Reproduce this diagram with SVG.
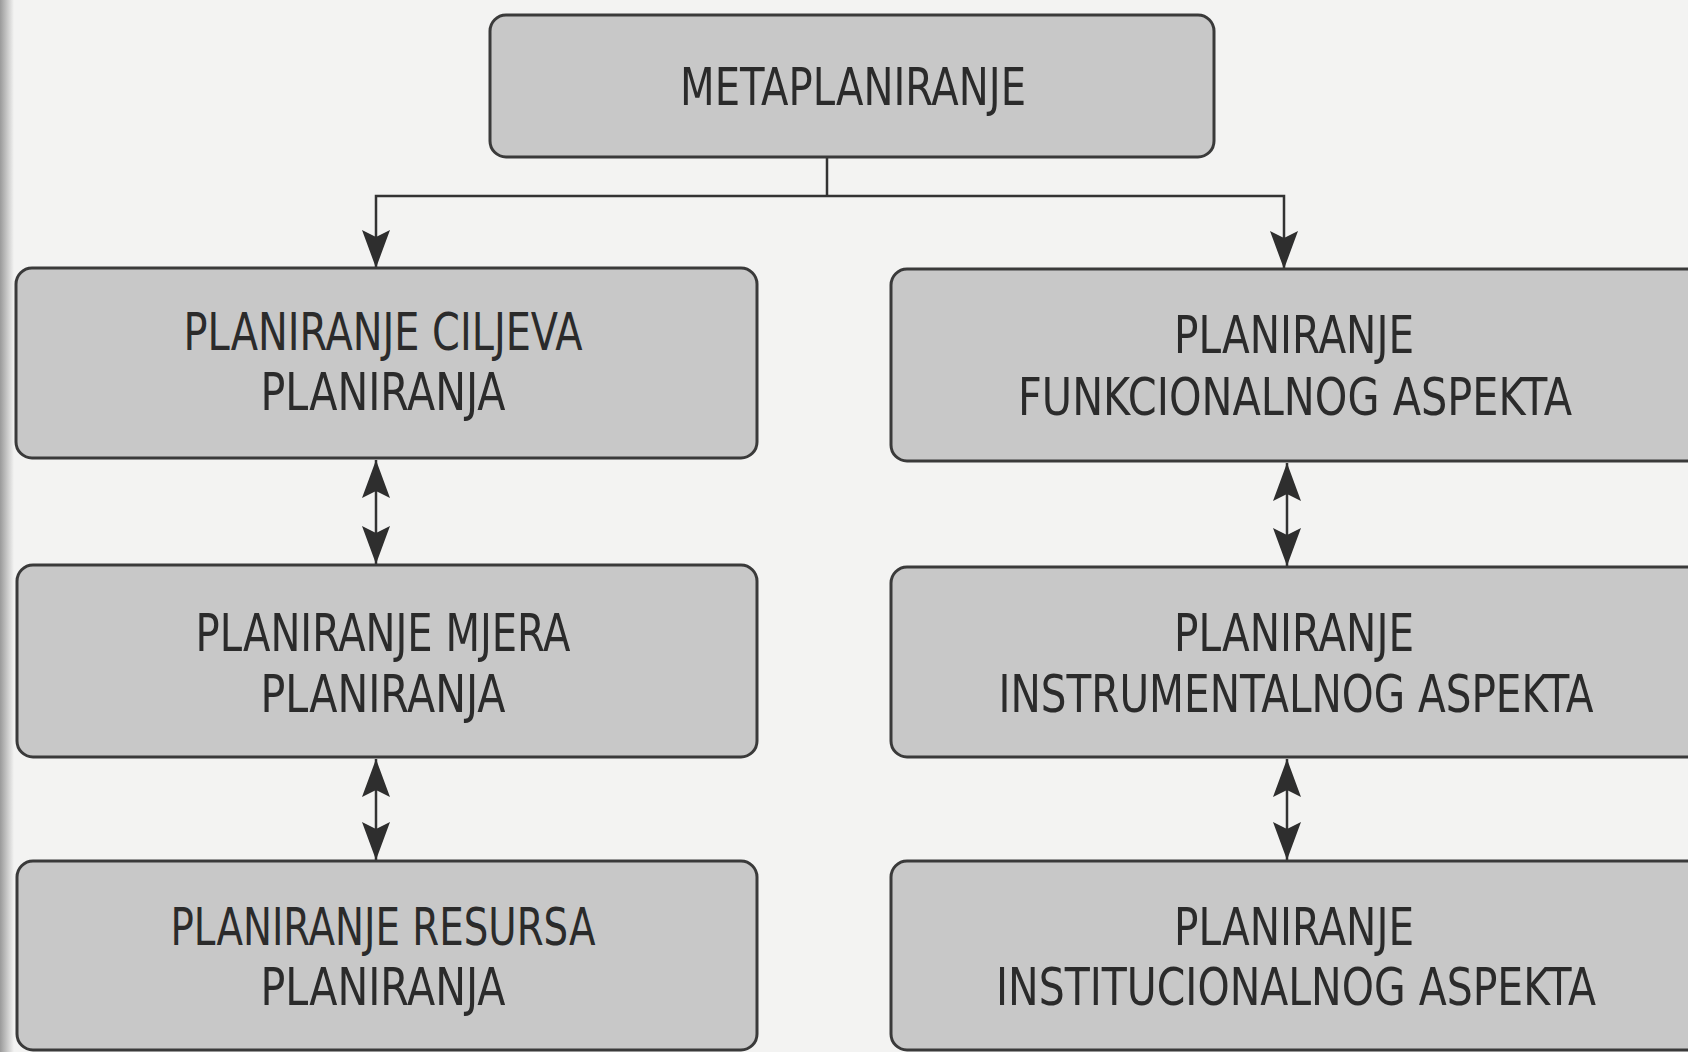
<svg xmlns="http://www.w3.org/2000/svg" width="1688" height="1052" viewBox="0 0 1688 1052">
  <style>
    .box { fill: #c8c8c8; stroke: #3a3a3a; stroke-width: 3; }
    .lbl { font-family: 'Liberation Sans Narrow', 'DejaVu Sans Condensed', 'Liberation Sans', sans-serif; font-size: 52px; fill: #2b2b2b; text-anchor: middle; }
    .wire { fill: none; stroke: #333333; stroke-width: 2.5; }
  </style>
  <defs>
    <marker id="head" viewBox="0 0 38 28" refX="38" refY="14" markerWidth="38" markerHeight="28" markerUnits="userSpaceOnUse" orient="auto-start-reverse">
      <path d="M0,0 L38,14 L0,28 L7,14 Z" fill="#2e2e2e"/>
    </marker>
    <linearGradient id="edge" x1="0" y1="0" x2="1" y2="0">
      <stop offset="0" stop-color="#9a9a9a"/>
      <stop offset="1" stop-color="#f3f3f2"/>
    </linearGradient>
  </defs>

  <!-- page -->
  <rect x="0" y="0" width="1688" height="1052" fill="#f3f3f2"/>
  <rect x="0" y="0" width="14" height="1052" fill="url(#edge)"/>

  <!-- connectors -->
  <g id="connectors">
    <path class="wire" d="M827,157 V196"/>
    <path class="wire" d="M376,268 V196 H1284 V269" marker-start="url(#head)" marker-end="url(#head)"/>
    <path class="wire" d="M376,460 V564" marker-start="url(#head)" marker-end="url(#head)"/>
    <path class="wire" d="M376,759 V860" marker-start="url(#head)" marker-end="url(#head)"/>
    <path class="wire" d="M1287,463 V566" marker-start="url(#head)" marker-end="url(#head)"/>
    <path class="wire" d="M1287,759 V860" marker-start="url(#head)" marker-end="url(#head)"/>
  </g>

  <!-- root -->
  <g id="metaplaniranje">
    <rect class="box" x="490" y="15" width="724" height="142" rx="16"/>
    <text class="lbl" x="853" y="105" textLength="346" lengthAdjust="spacingAndGlyphs">METAPLANIRANJE</text>
  </g>

  <!-- left column -->
  <g id="ciljevi">
    <rect class="box" x="16" y="268" width="741" height="190" rx="16"/>
    <text class="lbl" x="383" y="350" textLength="399" lengthAdjust="spacingAndGlyphs">PLANIRANJE CILJEVA</text>
    <text class="lbl" x="383" y="410" textLength="245" lengthAdjust="spacingAndGlyphs">PLANIRANJA</text>
  </g>
  <g id="mjere">
    <rect class="box" x="17" y="565" width="740" height="192" rx="16"/>
    <text class="lbl" x="383" y="651" textLength="375" lengthAdjust="spacingAndGlyphs">PLANIRANJE MJERA</text>
    <text class="lbl" x="383" y="712" textLength="245" lengthAdjust="spacingAndGlyphs">PLANIRANJA</text>
  </g>
  <g id="resursi">
    <rect class="box" x="17" y="861" width="740" height="189" rx="16"/>
    <text class="lbl" x="383" y="945" textLength="425" lengthAdjust="spacingAndGlyphs">PLANIRANJE RESURSA</text>
    <text class="lbl" x="383" y="1005" textLength="245" lengthAdjust="spacingAndGlyphs">PLANIRANJA</text>
  </g>

  <!-- right column -->
  <g id="funkcionalni">
    <rect class="box" x="891" y="269" width="820" height="192" rx="16"/>
    <text class="lbl" x="1294" y="353" textLength="240" lengthAdjust="spacingAndGlyphs">PLANIRANJE</text>
    <text class="lbl" x="1295" y="415" textLength="554" lengthAdjust="spacingAndGlyphs">FUNKCIONALNOG ASPEKTA</text>
  </g>
  <g id="instrumentalni">
    <rect class="box" x="891" y="567" width="820" height="190" rx="16"/>
    <text class="lbl" x="1294" y="651" textLength="240" lengthAdjust="spacingAndGlyphs">PLANIRANJE</text>
    <text class="lbl" x="1296" y="712" textLength="595" lengthAdjust="spacingAndGlyphs">INSTRUMENTALNOG ASPEKTA</text>
  </g>
  <g id="institucionalni">
    <rect class="box" x="891" y="861" width="820" height="189" rx="16"/>
    <text class="lbl" x="1294" y="945" textLength="240" lengthAdjust="spacingAndGlyphs">PLANIRANJE</text>
    <text class="lbl" x="1296" y="1005" textLength="600" lengthAdjust="spacingAndGlyphs">INSTITUCIONALNOG ASPEKTA</text>
  </g>
</svg>
